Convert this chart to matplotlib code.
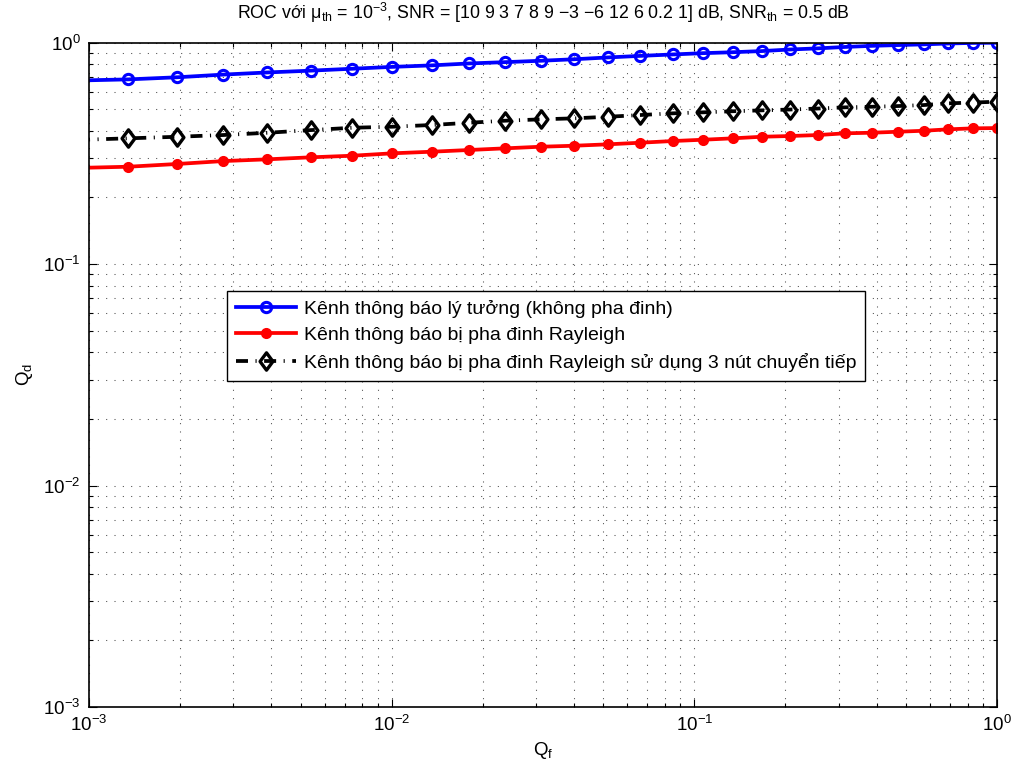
import matplotlib
matplotlib.use("Agg")
import matplotlib.pyplot as plt
from matplotlib.path import Path
from matplotlib.ticker import LogLocator, NullFormatter

# Probability of false alarm (x) for each threshold step
qf = [0.00092, 0.001349, 0.00195, 0.00278, 0.003882, 0.005395, 0.007413,
      0.01005, 0.01355, 0.01799, 0.02366, 0.03112, 0.04009, 0.05176,
      0.06607, 0.08472, 0.1067, 0.1341, 0.1675, 0.207, 0.2564, 0.3145,
      0.3855, 0.4721, 0.5734, 0.6902, 0.8337, 1.0]

# Probability of detection for the three reporting-channel cases
qd_ideal = [0.675, 0.683, 0.698, 0.718, 0.734, 0.748, 0.763, 0.778, 0.790,
            0.806, 0.817, 0.829, 0.842, 0.858, 0.872, 0.885, 0.897, 0.906,
            0.917, 0.932, 0.943, 0.957, 0.968, 0.976, 0.983, 0.992, 0.998,
            1.0]
qd_rayleigh = [0.272, 0.2754, 0.2833, 0.2921, 0.2974, 0.3037, 0.3088,
               0.3166, 0.3219, 0.3277, 0.3334, 0.3391, 0.3426, 0.3476,
               0.3534, 0.3597, 0.3646, 0.3700, 0.3762, 0.3790, 0.3829,
               0.3898, 0.3922, 0.3963, 0.4004, 0.4063, 0.4105, 0.4118]
qd_relay = [0.364, 0.370, 0.376, 0.383, 0.392, 0.403, 0.413, 0.4175, 0.425,
            0.435, 0.4444, 0.4508, 0.4555, 0.4631, 0.4713, 0.4798, 0.4848,
            0.4904, 0.4950, 0.4992, 0.5044, 0.5107, 0.5139, 0.5177, 0.5231,
            0.5324, 0.5369, 0.5414]

labels = [
    "Kênh thông báo lý tưởng (không pha đinh)",
    "Kênh thông báo bị pha đinh Rayleigh",
    "Kênh thông báo bị pha đinh Rayleigh sử dụng 3 nút chuyển tiếp",
]
title = (r"ROC với $\mu_{th}$ = 10$^{-3}$, SNR = [10 9 3 7 8 9 −3 −6 12 6 0.2 1] dB, "
         r"SNR$_{th}$ = 0.5 dB")

plt.rcParams["font.family"] = ["Liberation Sans", "DejaVu Sans"]
plt.rcParams["mathtext.fontset"] = "custom"
plt.rcParams["mathtext.rm"] = "Liberation Sans"
plt.rcParams["mathtext.it"] = "Liberation Sans"
plt.rcParams["mathtext.bf"] = "Liberation Sans:bold"
plt.rcParams["mathtext.default"] = "regular"

fig = plt.figure(figsize=(10.17, 7.74), dpi=100)
ax = fig.add_axes([0.0875, 0.0866, 0.8928, 0.8582])

# tall diamond marker
diamond = Path([(0, 1), (0.74, 0), (0, -1), (-0.74, 0), (0, 1)],
               [Path.MOVETO, Path.LINETO, Path.LINETO, Path.LINETO, Path.CLOSEPOLY])

ax.plot(qf, qd_ideal, color="#0000ff", lw=2.7, marker="o", ms=7.4,
        mfc="none", mec="#0000ff", mew=2.2, label=labels[0])
ax.plot(qf, qd_rayleigh, color="#ff0000", lw=2.7, marker="o", ms=6.8,
        mfc="#ff0000", mec="#ff0000", mew=1.2, label=labels[1])
ax.plot(qf, qd_relay, color="black", lw=2.7, ls=(0, (3.2, 2.0, 0.3, 2.0)),
        marker=diamond, ms=12.5, mfc="none", mec="black", mew=2.4,
        label=labels[2])

ax.set_xscale("log")
ax.set_yscale("log")
ax.set_xlim(1e-3, 1)
ax.set_ylim(1e-3, 1)

ax.xaxis.set_minor_locator(LogLocator(base=10, subs=range(2, 10)))
ax.yaxis.set_minor_locator(LogLocator(base=10, subs=range(2, 10)))
ax.xaxis.set_minor_formatter(NullFormatter())
ax.yaxis.set_minor_formatter(NullFormatter())

ax.grid(True, which="both", color="0.3", lw=0.75, ls=(0, (1, 7)))
ax.set_axisbelow(True)
ax.tick_params(which="both", direction="in", top=True, right=True,
               labelsize=13.5, width=0.8)
ax.tick_params(which="major", length=6, pad=6)
ax.tick_params(which="minor", length=3)
for s in ax.spines.values():
    s.set_linewidth(1.2)

ax.set_title(title, fontsize=12.8, pad=17)
ax.set_xlabel("Q$_f$", fontsize=13.5, labelpad=3)
ax.set_ylabel("Q$_d$", fontsize=13.5, labelpad=6)

leg = ax.legend(loc="upper left", bbox_to_anchor=(0.152, 0.626),
                borderaxespad=0, fontsize=14, handlelength=3.1,
                fancybox=False, framealpha=1, edgecolor="black",
                labelspacing=0.45, borderpad=0.45, handletextpad=0.4)
leg.get_frame().set_linewidth(1.0)

fig.savefig("out.png", dpi=100)
